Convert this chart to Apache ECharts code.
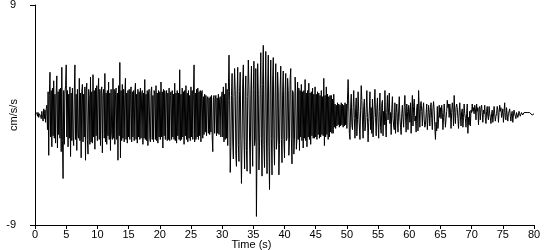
<!DOCTYPE html>
<html>
<head>
<meta charset="utf-8">
<script src="https://cdn.jsdelivr.net/npm/echarts@6/dist/echarts.min.js"></script>
<style>html,body{margin:0;padding:0;background:#fff}#c{width:550px;height:250px}</style>
</head>
<body>
<div id="c"></div>
<script>
var timeStep = 0.1; // seconds between samples
var accel = [
0.0,0.1,-0.1,0.2,-0.1,0.2,-0.2,0.1,0.2,-0.1,
-0.3,0.3,-0.2,-0.5,0.5,-0.3,0.4,-0.6,0.5,0.8,
-1.2,1.9,-3.3,1.6,3.5,-1.8,2.0,-2.6,2.2,-1.7,
2.8,-1.9,1.7,-2.3,1.8,3.2,-2.7,1.9,-1.6,2.1,
-1.9,2.2,-3.0,3.9,-2.1,-5.2,2.0,-2.4,1.8,2.4,
4.1,-1.8,2.0,-2.6,1.7,-1.9,2.3,-3.4,1.8,-2.1,
2.2,-1.8,-2.5,1.9,4.1,-2.0,1.7,-2.9,2.1,-1.6,
-1.9,3.0,-2.1,1.8,-3.5,1.9,2.5,-2.2,1.7,-1.8,
2.3,-3.7,1.9,2.6,-2.0,-3.2,2.1,1.6,-2.4,3.1,
-2.2,1.9,-2.3,3.3,-1.8,2.0,-2.8,2.2,-1.7,2.4,
-2.1,1.7,3.0,-2.0,2.1,-2.5,1.8,2.3,-3.1,1.6,
2.1,-1.9,3.4,-2.2,1.8,-2.4,2.0,-1.7,2.7,-2.0,
1.8,-2.9,2.1,-1.6,-2.0,3.0,-1.9,2.1,-2.4,1.7,
2.2,-2.0,1.8,-3.7,2.4,-1.7,4.3,-3.5,2.0,-2.1,
2.5,-1.9,2.1,-2.2,1.7,3.0,-2.0,1.8,-2.3,2.0,
-1.8,2.1,-2.0,1.7,2.3,-2.2,1.9,-1.8,2.0,-2.1,
1.8,2.6,-2.0,1.7,-2.3,2.1,-1.8,1.9,-2.0,2.2,
-1.9,1.7,2.0,-2.4,1.8,-1.9,2.9,-2.0,1.7,-2.1,
2.0,-2.5,1.8,2.1,-1.9,-2.2,1.9,2.3,-2.0,1.6,
-2.2,2.0,1.7,-2.0,2.4,-2.1,1.8,-2.3,2.0,-1.8,
1.9,-2.0,2.7,-1.8,1.9,-2.7,2.1,-1.7,2.0,-2.0,
1.7,2.0,-2.1,1.8,-2.0,2.2,-2.1,1.6,1.9,-2.0,
2.0,-1.8,1.7,-2.0,2.6,-2.1,1.8,-2.3,2.0,-1.7,
1.8,-2.0,3.7,-2.1,1.7,-2.0,2.2,-1.8,1.9,-2.4,
2.0,-1.7,2.4,-2.0,1.8,-2.2,2.0,-1.9,1.6,-2.1,
2.3,-1.8,2.0,-2.0,1.7,4.1,-2.2,1.8,-2.0,2.1,
-1.8,2.2,-2.0,1.9,-1.7,2.0,-2.2,1.8,2.0,-1.9,
1.5,-1.6,1.7,-1.4,1.6,-1.7,1.3,1.5,-1.5,1.4,
-1.6,1.5,-1.4,1.6,-1.7,-3.0,1.4,1.6,-1.5,1.3,
1.6,-1.7,1.4,-1.5,1.7,-1.6,1.3,1.5,-1.8,1.4,
1.9,-1.8,2.3,-2.2,1.7,-2.0,2.6,-1.9,2.1,-2.5,
1.9,4.9,1.2,-4.7,-2.6,1.6,3.4,-2.2,-3.6,1.5,
3.8,2.0,-3.3,-4.2,1.7,3.9,-2.4,-3.8,1.9,3.5,
-2.2,-5.6,-2.0,2.6,4.1,-1.8,-4.4,1.8,3.2,-2.9,
-4.6,1.5,4.5,2.3,-2.2,-4.8,1.7,4.0,-1.6,-4.2,
2.1,4.4,-2.5,-2.0,3.8,-8.3,-2.2,4.2,1.7,-4.5,
-2.6,2.0,5.1,-1.9,-5.0,2.5,5.7,-2.4,-4.3,1.9,
5.2,-1.8,-4.8,2.3,4.9,-2.6,-6.1,1.8,4.5,-1.9,
-4.9,2.7,4.7,-2.0,-4.1,1.8,4.2,-2.8,-1.9,3.5,
1.9,-4.9,-2.4,2.1,4.0,-2.0,-3.9,1.9,3.6,-2.0,
-3.5,2.0,3.4,-2.1,-1.9,3.0,2.0,-3.3,-1.9,2.9,
3.8,-1.9,-4.0,2.0,1.8,-3.2,-2.0,3.1,1.9,-2.8,
-1.9,2.7,-2.0,2.2,-2.9,2.0,-1.8,2.5,-2.1,1.9,
-2.7,2.0,-1.9,2.9,-2.1,1.8,-2.6,2.0,-1.8,2.6,
-2.0,1.8,-2.4,1.9,-1.7,2.2,-1.9,1.7,-1.9,2.3,
-1.8,1.7,-2.0,1.9,-1.6,1.8,-1.9,1.6,-1.8,2.0,
-1.6,1.5,-1.7,3.0,-2.5,1.6,-1.8,2.3,-1.6,1.7,
-2.0,1.5,-1.8,1.6,-1.4,1.6,-1.5,1.3,-1.5,1.7,
-1.0,0.9,-1.1,0.8,-0.9,1.0,-0.8,0.9,-1.0,0.8,
-0.9,1.0,-0.8,0.9,-1.0,0.8,-0.9,1.0,-0.8,0.9,
-1.1,1.3,2.9,0.8,-1.5,-2.0,0.6,1.7,-0.8,-1.2,
0.6,2.0,-0.3,-1.9,0.5,1.4,-1.7,-0.4,1.9,0.3,
-0.9,-2.0,0.4,2.4,1.2,-0.5,-1.9,0.7,1.3,-1.3,
-0.8,0.5,2.0,-0.2,-2.2,-0.6,0.4,1.9,-1.2,0.6,
-1.5,1.3,-1.8,-0.4,0.9,2.1,-0.2,-1.7,0.5,1.4,
-0.6,-1.9,0.3,1.8,-1.0,-1.5,0.9,1.2,-1.7,0.3,
-0.8,2.0,-0.5,-1.8,0.2,1.6,-0.4,0.6,1.8,-0.7,
0.2,-1.6,0.5,1.5,-0.3,-0.9,-1.2,1.0,-1.5,0.2,
0.9,-0.5,-1.4,0.4,1.5,-0.2,-1.0,-1.6,0.1,0.8,
-0.3,-1.0,0.7,1.6,-0.1,-1.4,0.9,0.3,-1.2,0.8,
0.4,-0.6,1.0,-1.5,0.1,1.6,-0.9,0.7,1.3,-0.5,
-0.1,-1.4,0.6,0.9,-1.3,2.0,0.5,-1.0,0.8,1.1,
0.3,-0.9,0.5,1.0,-0.4,-1.0,-0.8,0.1,0.9,-1.2,
-0.3,0.8,0.2,-0.9,0.6,1.0,-0.3,-1.2,0.5,1.1,
0.4,-1.0,-2.0,-0.6,-1.3,0.7,-1.1,-0.4,0.8,-0.2,
0.6,-0.3,0.8,0.2,-1.2,-0.2,0.9,0.1,-1.0,-0.3,
0.3,1.2,0.6,0.9,-0.2,0.9,0.4,-1.1,0.2,1.0,
0.5,-0.9,1.6,0.2,-0.7,0.6,0.9,0.6,-0.3,-1.1,
0.2,1.0,-0.1,-0.9,0.3,0.5,-1.0,-0.2,0.9,0.1,
-0.3,-1.0,0.1,0.9,-1.5,-0.2,-0.8,0.3,-0.9,0.4,
0.2,0.9,0.3,0.6,0.1,0.8,0.5,-0.4,0.9,0.3,
0.6,-0.8,0.5,0.7,-0.4,0.5,0.8,0.2,-0.6,0.4,
0.1,0.8,-0.2,-0.7,0.3,0.7,-0.1,-0.4,0.7,0.1,
-0.2,-0.7,0.1,0.4,-0.6,0.0,0.7,0.1,-0.5,-0.1,
0.1,0.7,0.4,-0.6,0.2,0.8,0.3,0.6,-0.2,0.1,
0.5,-0.6,0.2,1.0,-0.2,-0.4,0.6,0.0,-0.5,0.1,
0.2,0.5,-0.1,-0.5,0.1,0.3,-0.6,0.0,0.4,0.1,
-0.1,-0.3,0.2,0.1,-0.2,0.0,0.3,0.1,-0.1,0.0,
0.2,0.1,0.0,0.1,0.2,0.1,0.2,0.1,0.1,0.2,
0.1,0.1,0.1,0.2,0.1,0.1,0.1,0.0,0.1,0.1,
0.1
];
var xTicks = [0,5,10,15,20,25,30,35,40,45,50,55,60,65,70,75,80];
var yTicks = [-9, 9];
var xTitle = 'Time (s)';
var yTitle = 'cm/s/s';

var seriesData = accel.map(function (v, i) { return [+(i * timeStep).toFixed(2), v]; });
var font = 'Liberation Sans, Arial, sans-serif';
var chart = echarts.init(document.getElementById('c'), null, {renderer: 'canvas'});
chart.setOption({
  animation: false,
  backgroundColor: '#fff',
  grid: {left: 35, right: 16, top: 5, bottom: 25, containLabel: false, outerBoundsMode: 'none'},
  xAxis: {
    type: 'value', min: 0, max: 80,
    name: xTitle, nameLocation: 'middle', nameGap: 14, nameMoveOverlap: false,
    nameTextStyle: {color: '#000', fontFamily: font, fontSize: 11, padding: [0, 66, 0, 0]},
    axisLine: {onZero: false, lineStyle: {color: '#000', width: 1}},
    axisTick: {show: true, inside: false, length: 4, lineStyle: {color: '#000'}, customValues: xTicks},
    axisLabel: {color: '#000', fontFamily: font, fontSize: 11, margin: 4, customValues: xTicks},
    splitLine: {show: false}
  },
  yAxis: {
    type: 'value', min: -9, max: 9,
    name: yTitle, nameLocation: 'middle', nameGap: 16, nameRotate: 90, nameMoveOverlap: false,
    nameTextStyle: {color: '#000', fontFamily: font, fontSize: 11},
    axisLine: {show: true, onZero: false, lineStyle: {color: '#000', width: 1}},
    axisTick: {show: true, inside: false, length: 5, lineStyle: {color: '#000'}, customValues: yTicks},
    axisLabel: {color: '#000', fontFamily: font, fontSize: 11, margin: 19, customValues: yTicks},
    splitLine: {show: false}
  },
  series: [{
    type: 'line', data: seriesData, showSymbol: false, symbol: 'none',
    lineStyle: {color: '#000', width: 1}, sampling: null
  }]
});
</script>
</body>
</html>
